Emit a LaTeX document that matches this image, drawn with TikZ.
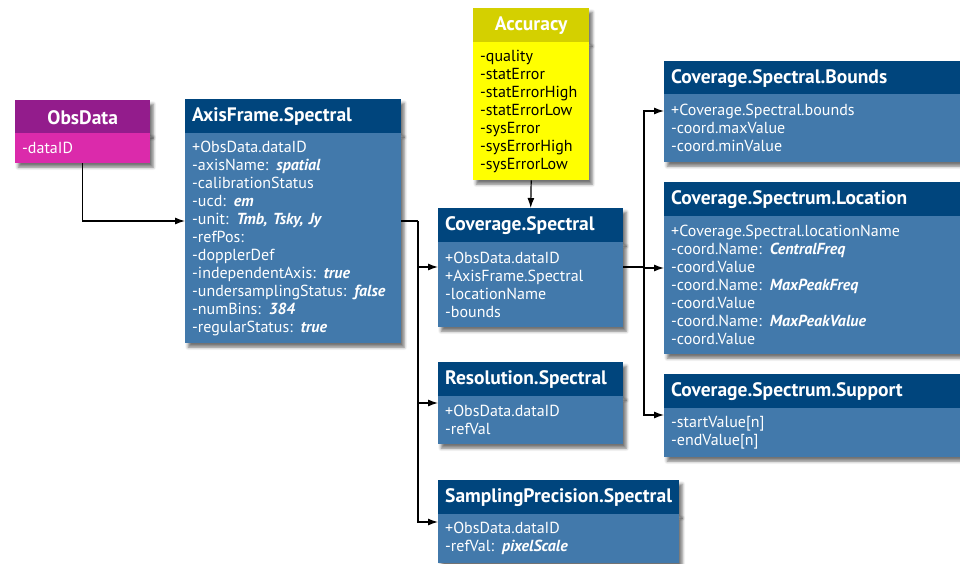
\documentclass[tikz,border=0pt]{standalone}
\usepackage{fontspec}
\setmainfont{PT Sans}
\usetikzlibrary{arrows.meta,shadows.blur}

\definecolor{headblue}{HTML}{00457D}
\definecolor{bodyblue}{HTML}{4279AB}
\definecolor{headpurple}{HTML}{931C8C}
\definecolor{bodypink}{HTML}{DB2AAB}
\definecolor{headolive}{HTML}{D4D000}
\definecolor{bodyyellow}{HTML}{FFFF00}

\newcommand{\val}[1]{\textbf{\textit{#1}}}

\tikzset{
  box/.style={anchor=north west, inner xsep=7pt, inner ysep=0pt, align=left,
    blur shadow={shadow xshift=3pt, shadow yshift=-4pt, shadow blur radius=3pt, shadow opacity=55}},
  head/.style={box, fill=headblue, text=white, minimum height=34pt,
    font=\fontsize{19.5}{22}\selectfont\bfseries},
  body/.style={box, fill=bodyblue, text=white, font=\fontsize{16}{18}\selectfont},
  link/.style={line width=1.2pt, -{Latex[length=10pt,width=7pt]}},
}

\begin{document}
\begin{tikzpicture}[x=1pt,y=-1pt]
    \useasboundingbox (0,0) rectangle (960,564);

    % left side
    \node[head, fill=headpurple, text width=121pt, align=center] (obs) at (15,100) {ObsData};
    \node[body, fill=bodypink, text width=121pt, minimum height=30pt] (obsb) at (15,133) {-dataID};

    \node[head, text width=202pt] (axis) at (185,99) {AxisFrame.Spectral};
    \node[body, text width=202pt, minimum height=210pt] (axisb) at (185,133) {+ObsData.dataID\\
	-axisName: \val{spatial}\\
	-calibrationStatus\\
	-ucd: \val{em}\\
	-unit: \val{Tmb, Tsky, Jy}\\
	-refPos:\\
	-dopplerDef\\
	-independentAxis: \val{true}\\
	-undersamplingStatus: \val{false}\\
	-numBins: \val{384}\\
	-regularStatus: \val{true}};

    % middle column
    \node[head, fill=headolive, text width=102pt, align=center] (acc) at (473,8) {Accuracy};
    \node[body, fill=bodyyellow, text=black, text width=102pt, minimum height=138pt] (accb) at (473,42) {-quality\\
	-statError\\
	-statErrorHigh\\
	-statErrorLow\\
	-sysError\\
	-sysErrorHigh\\
	-sysErrorLow};

    \node[head, text width=171pt] (cov) at (438,208) {Coverage.Spectral};
    \node[body, text width=171pt, minimum height=85pt] (covb) at (438,242) {+ObsData.dataID\\
	+AxisFrame.Spectral\\
	-locationName\\
	-bounds};

    \node[head, text width=171pt] (res) at (438,362) {Resolution.Spectral};
    \node[body, text width=171pt, minimum height=48pt] (resb) at (438,396) {+ObsData.dataID\\
	-refVal};

    \node[head, text width=227pt] (sp) at (438,480) {SamplingPrecision.Spectral};
    \node[body, text width=227pt, minimum height=49pt] (spb) at (438,514) {+ObsData.dataID\\
	-refVal: \val{pixelScale}};

    % right column
    \node[head, text width=297pt] (bnd) at (664,61) {Coverage.Spectral.Bounds};
    \node[body, text width=297pt, minimum height=68pt] (bndb) at (664,94) {+Coverage.Spectral.bounds\\
	-coord.maxValue\\
	-coord.minValue};

    \node[head, text width=297pt] (loc) at (664,182) {Coverage.Spectrum.Location};
    \node[body, text width=297pt, minimum height=138pt] (locb) at (664,216) {+Coverage.Spectral.locationName\\
	-coord.Name: \val{CentralFreq}\\
	-coord.Value\\
	-coord.Name: \val{MaxPeakFreq}\\
	-coord.Value\\
	-coord.Name: \val{MaxPeakValue}\\
	-coord.Value};

    \node[head, text width=297pt] (sup) at (664,374) {Coverage.Spectrum.Support};
    \node[body, text width=297pt, minimum height=49pt] (supb) at (664,408) {-startValue[n]\\
	-endValue[n]};

    % connectors
    \coordinate (split1) at (418,221);
    \coordinate (split2) at (644,267);

    \draw[link] (obsb.south) |- (axisb.west |- 0,221);
    \draw[line width=1.2pt] (axisb.east |- split1) -- (split1);
    \draw[link] (split1) |- (covb.west |- 0,267);
    \draw[link] (split1) |- (resb.west |- 0,403);
    \draw[link] (split1) |- (spb.west |- 0,522);

    \draw[link] (accb.south) -- (cov.north);

    \draw[line width=1.2pt] (covb.east |- split2) -- (split2);
    \draw[link] (split2) |- (bndb.west |- 0,111);
    \draw[link] (split2) |- (locb.west |- 0,268);
    \draw[link] (split2) |- (supb.west |- 0,415);
\end{tikzpicture}
\end{document}
